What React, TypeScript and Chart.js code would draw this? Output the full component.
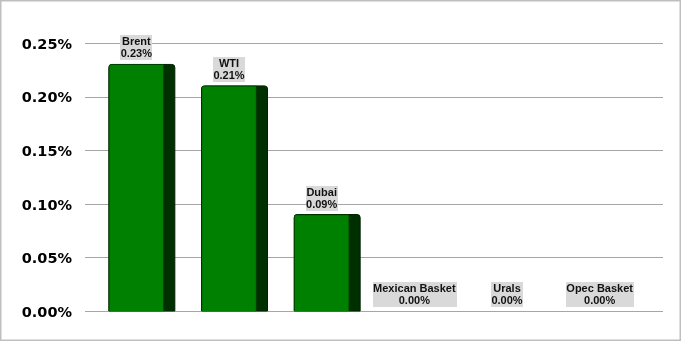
import React, { useEffect, useRef } from "react";
import { Chart, registerables } from "chart.js";

Chart.register(...registerables);

const categories = ["Brent", "WTI", "Dubai", "Mexican Basket", "Urals", "Opec Basket"];
const values = [0.23, 0.21, 0.09, 0, 0, 0];
const yMin = 0;
const yMax = 0.25;
const yStep = 0.05;

const FRONT = "#008000";
const SIDE = "#003000";
const EDGE = "#004000";

function roundTopRect(ctx: CanvasRenderingContext2D, x: number, y: number, w: number, h: number, r: number) {
  ctx.beginPath();
  ctx.moveTo(x, y + h);
  ctx.lineTo(x, y + r);
  ctx.quadraticCurveTo(x, y, x + r, y);
  ctx.lineTo(x + w - r, y);
  ctx.quadraticCurveTo(x + w, y, x + w, y + r);
  ctx.lineTo(x + w, y + h);
  ctx.closePath();
}

const deco = {
  id: "deco",
  beforeDraw(chart: any) {
    const { ctx, width, height, chartArea } = chart;
    ctx.save();
    ctx.fillStyle = "#ffffff";
    ctx.fillRect(0, 0, width, height);
    ctx.strokeStyle = "#bfbfbf";
    ctx.lineWidth = 1.5;
    ctx.strokeRect(0.75, 0.75, width - 1.5, height - 1.5);
    const ys = chart.scales.y;
    ctx.strokeStyle = "#a6a6a6";
    ctx.lineWidth = 1;
    for (let v = yMin; v <= yMax + 1e-9; v += yStep) {
      const py = Math.round(ys.getPixelForValue(v)) + 0.5;
      ctx.beginPath();
      ctx.moveTo(chartArea.left - 5, py);
      ctx.lineTo(chartArea.right + 17, py);
      ctx.stroke();
    }
    ctx.restore();
  },
  beforeDatasetsDraw(chart: any) {
    const { ctx } = chart;
    const meta = chart.getDatasetMeta(0);
    ctx.save();
    meta.data.forEach((el: any) => {
      const { x, y, base, width } = el.getProps(["x", "y", "base", "width"], true);
      const h = base - y;
      if (h < 1) return;
      const left = x - width / 2;
      roundTopRect(ctx, left, y, width + 11, h, 3);
      ctx.fillStyle = SIDE;
      ctx.fill();
      ctx.strokeStyle = "#002000";
      ctx.lineWidth = 1;
      ctx.stroke();
    });
    ctx.restore();
  },
  afterDatasetsDraw(chart: any) {
    const { ctx } = chart;
    const meta = chart.getDatasetMeta(0);
    ctx.save();
    ctx.font = "bold 11px 'Liberation Sans', Arial, sans-serif";
    ctx.textAlign = "center";
    ctx.textBaseline = "middle";
    meta.data.forEach((el: any, i: number) => {
      const { x, y } = el.getProps(["x", "y"], true);
      const l1 = categories[i];
      const l2 = values[i].toFixed(2) + "%";
      const w = Math.max(ctx.measureText(l1).width, ctx.measureText(l2).width) + 1;
      const bh = 25;
      const top = y - 4 - bh;
      ctx.fillStyle = "#d9d9d9";
      ctx.fillRect(Math.round(x - w / 2), Math.round(top), Math.round(w), bh);
      ctx.fillStyle = "#111111";
      ctx.fillText(l1, x, top + 7);
      ctx.fillText(l2, x, top + 19);
    });
    ctx.restore();
  },
};

export default function App() {
  const ref = useRef<HTMLCanvasElement | null>(null);
  useEffect(() => {
    if (!ref.current) return;
    const chart = new Chart(ref.current, {
      type: "bar",
      data: {
        labels: categories,
        datasets: [
          {
            data: values,
            backgroundColor: FRONT,
            borderColor: EDGE,
            borderWidth: 1,
            borderSkipped: "bottom",
            borderRadius: { topLeft: 3, topRight: 0, bottomLeft: 0, bottomRight: 0 },
            barThickness: 55,
          },
        ],
      },
      options: {
        animation: false,
        responsive: false,
        maintainAspectRatio: false,
        layout: { padding: { left: 0, right: 35, top: 43, bottom: 30 } },
        plugins: { legend: { display: false }, tooltip: { enabled: false } },
        scales: {
          x: { display: false, offset: true },
          y: {
            min: yMin,
            max: yMax,
            afterFit: (s: any) => {
              s.width = 90;
            },
            grid: { display: false, drawTicks: false },
            border: { display: false },
            ticks: {
              stepSize: yStep,
              padding: 18,
              labelOffset: 2,
              color: "#000000",
              font: { family: "'DejaVu Sans', Verdana, sans-serif", size: 14.5, weight: "bold" },
              callback: (v: any) => Number(v).toFixed(2) + "%",
            },
          },
        },
      },
      plugins: [deco],
    });
    return () => chart.destroy();
  }, []);
  return (
    <div style={{ position: "fixed", left: 0, top: 0, width: 681, height: 341 }}>
      <canvas ref={ref} width={681} height={341} style={{ display: "block", width: 681, height: 341 }} />
    </div>
  );
}
